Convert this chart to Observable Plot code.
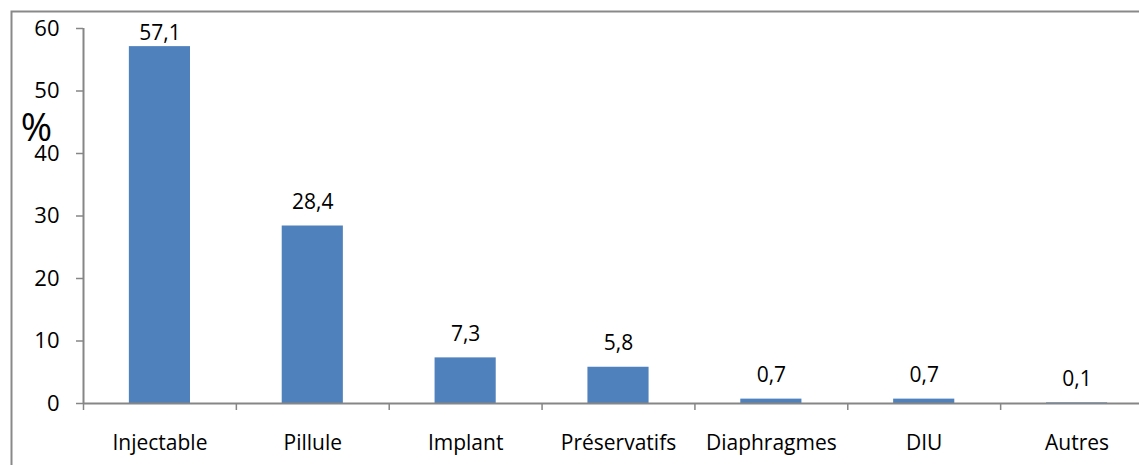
<!DOCTYPE html>
<html>
<head>
<meta charset="utf-8">
<script src="https://cdn.jsdelivr.net/npm/d3@7"></script>
<script src="https://cdn.jsdelivr.net/npm/@observablehq/plot@0.6"></script>
<style>
  html, body { margin: 0; padding: 0; background: #fff; overflow: hidden; }
</style>
</head>
<body>
<div id="chart"></div>
<script>
const categories = ["Injectable", "Pillule", "Implant", "Préservatifs", "Diaphragmes", "DIU", "Autres"];
const values = [57.1, 28.4, 7.3, 5.8, 0.7, 0.7, 0.1];
const labels = ["57,1", "28,4", "7,3", "5,8", "0,7", "0,7", "0,1"];
const yTicks = [0, 10, 20, 30, 40, 50, 60];
const yTitle = "%";

const data = categories.map((c, i) => ({cat: c, value: values[i], label: labels[i]}));
const axisColor = "#868686";
const step = (1153 - 83) / categories.length;

const chart = Plot.plot({
  width: 1139,
  height: 465,
  marginTop: 28,
  marginBottom: 62,
  marginLeft: 83,
  marginRight: 0,
  style: {fontFamily: "'Open Sans', sans-serif", color: "#000", background: "#fff"},
  x: {type: "band", domain: categories, range: [83, 1153], paddingInner: 0.6, paddingOuter: 0.3, round: false},
  y: {domain: [0, 60]},
  marks: [
    Plot.frame({stroke: "#898989", strokeWidth: 2, insetLeft: -72, insetTop: -17, insetRight: -200, insetBottom: -200}),
    Plot.barY(data, {x: "cat", y: "value", fill: "#4F81BD"}),
    Plot.axisY({ticks: yTicks, tickSize: 7, tickPadding: 17, fontSize: 22, stroke: axisColor, strokeWidth: 1.5, label: null}),
    Plot.axisX({tickSize: 0, tickPadding: 32, fontSize: 21, label: null}),
    Plot.ruleX([categories[0]], {x: d => d, y1: 0, y2: 60, dx: -step / 2, stroke: axisColor, strokeWidth: 2}),
    Plot.ruleX(categories, {x: d => d, y1: 0, y2: 0, dx: -step / 2, insetBottom: -7, stroke: axisColor, strokeWidth: 1.5}),
    Plot.ruleY([0], {stroke: axisColor, strokeWidth: 2}),
    Plot.text(data.slice(0, 1), {x: "cat", y: "value", text: "label", dy: -13, fontSize: 21}),
    Plot.text(data.slice(1), {x: "cat", y: "value", text: "label", dy: -24, fontSize: 21}),
    Plot.text([yTitle], {frameAnchor: "top-left", text: d => d, dx: -47, dy: 100, fontSize: 38, textAnchor: "middle", lineAnchor: "middle"})
  ]
});
document.getElementById("chart").appendChild(chart);
</script>
</body>
</html>
